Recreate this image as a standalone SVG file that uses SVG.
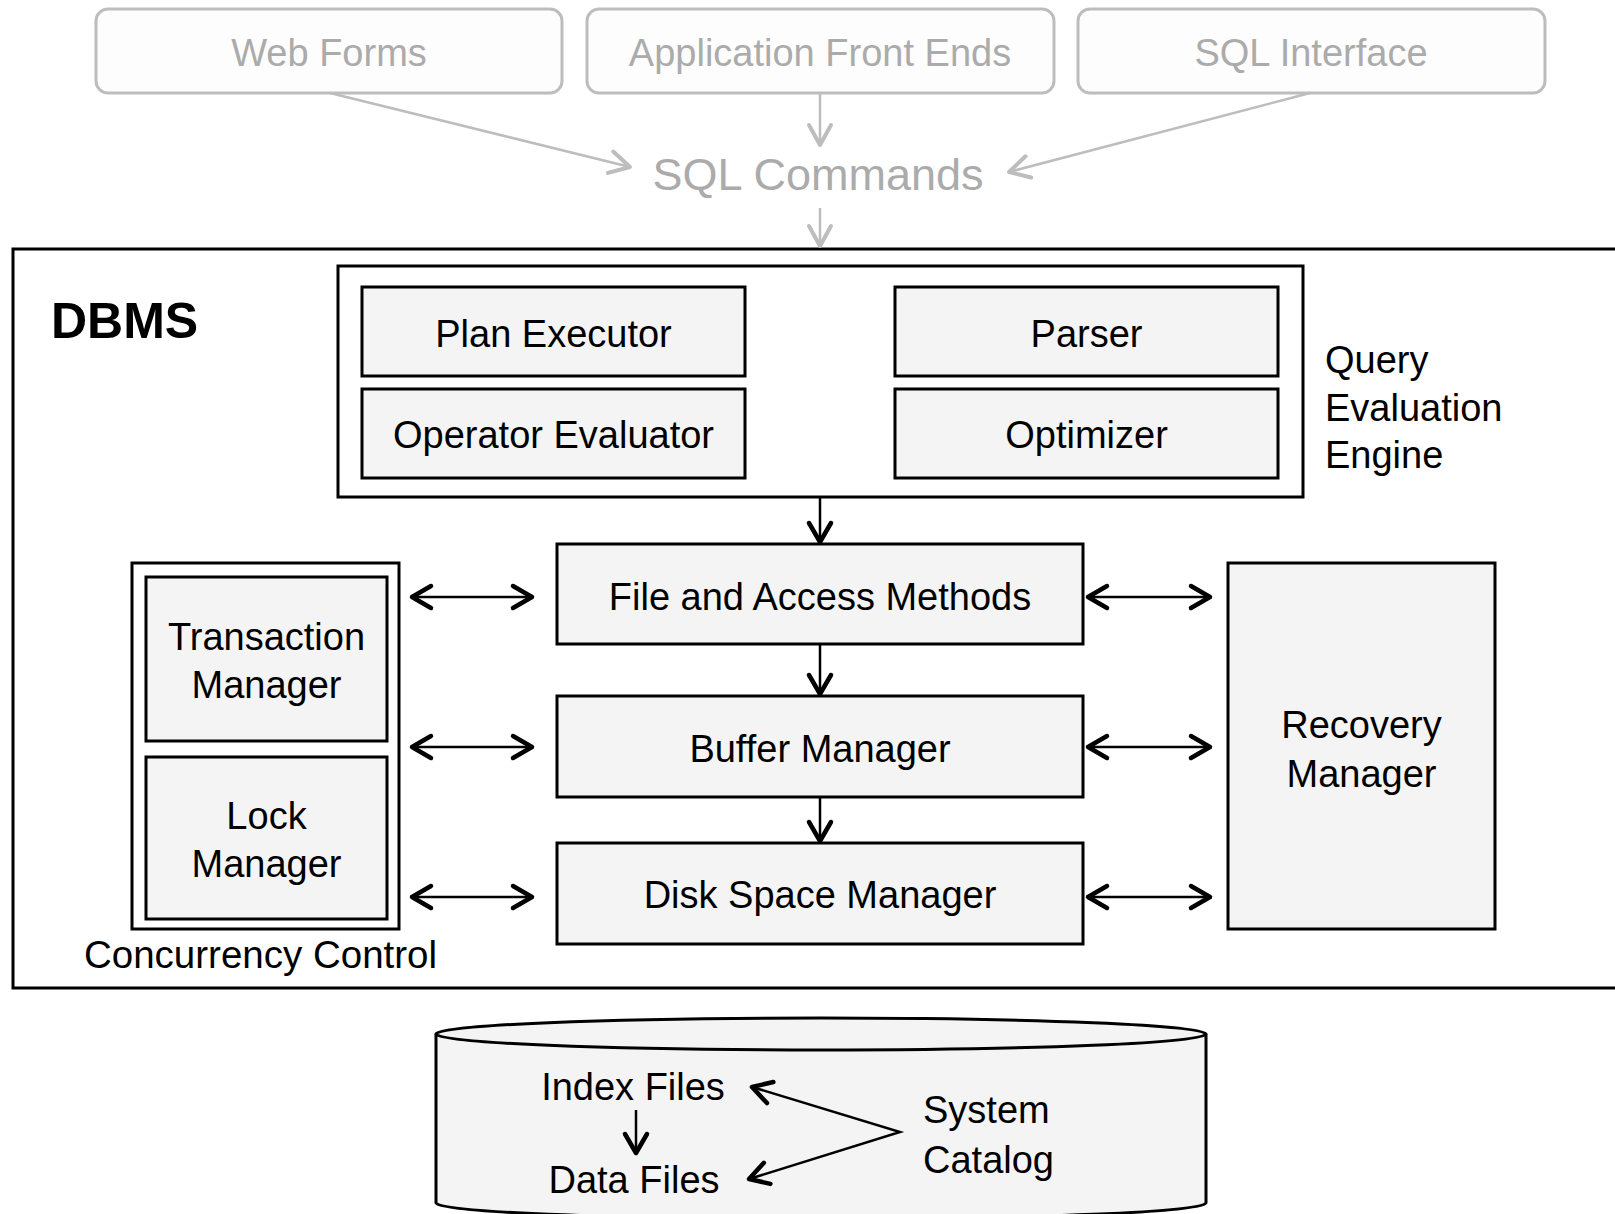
<svg xmlns="http://www.w3.org/2000/svg" width="1615" height="1214" viewBox="0 0 1615 1214">
<style>
.t{font-family:"Liberation Sans",Arial,sans-serif;fill:#000;text-anchor:middle}
.g{font-family:"Liberation Sans",Arial,sans-serif;fill:#ababab;text-anchor:middle}
.top{fill:#fdfdfd;stroke:#bdbdbd;stroke-width:3}
.box{fill:#f4f4f4;stroke:#000;stroke-width:3}
.frame{fill:none;stroke:#000;stroke-width:3}
.ln{fill:none;stroke:#000;stroke-width:2.5}
.gl{fill:none;stroke:#bdbdbd;stroke-width:2.5}
</style>
<defs>
<marker id="ah" markerUnits="userSpaceOnUse" markerWidth="40" markerHeight="40" refX="0" refY="0" orient="auto-start-reverse" overflow="visible">
<path d="M-19,-11 L0,0 L-19,11" fill="none" stroke="#000" stroke-width="4.5" stroke-linecap="round" stroke-linejoin="round"/>
</marker>
<marker id="gh" markerUnits="userSpaceOnUse" markerWidth="40" markerHeight="40" refX="0" refY="0" orient="auto" overflow="visible">
<path d="M-20,-11 L0,0 L-20,11" fill="none" stroke="#bdbdbd" stroke-width="4" stroke-linecap="round" stroke-linejoin="round"/>
</marker>
</defs>

<g id="webforms"><rect class="top" x="96" y="9" width="466" height="84" rx="12"/><text class="g" x="329" y="66" font-size="38">Web Forms</text></g>
<g id="appfrontends"><rect class="top" x="587" y="9" width="467" height="84" rx="12"/><text class="g" x="820" y="66" font-size="38">Application Front Ends</text></g>
<g id="sqlinterface"><rect class="top" x="1078" y="9" width="467" height="84" rx="12"/><text class="g" x="1311" y="66" font-size="38">SQL Interface</text></g>
<g id="sqlcommands"><text class="g" x="818" y="190" font-size="45">SQL Commands</text></g>

<g id="dbms"><rect class="frame" x="13" y="249" width="1640" height="739"/><text class="t" x="51" y="338" font-size="50" font-weight="bold" style="text-anchor:start">DBMS</text></g>

<g id="qee"><rect class="frame" x="338" y="266" width="965" height="231"/>
<text class="t" x="1325" y="373" font-size="38" style="text-anchor:start">Query</text>
<text class="t" x="1325" y="421" font-size="38" style="text-anchor:start">Evaluation</text>
<text class="t" x="1325" y="468" font-size="38" style="text-anchor:start">Engine</text></g>
<g id="planexecutor"><rect class="box" x="362" y="287" width="383" height="89"/><text class="t" x="553.5" y="347" font-size="38">Plan Executor</text></g>
<g id="operatorevaluator"><rect class="box" x="362" y="389" width="383" height="89"/><text class="t" x="553.5" y="448" font-size="38">Operator Evaluator</text></g>
<g id="parser"><rect class="box" x="895" y="287" width="383" height="89"/><text class="t" x="1086.5" y="347" font-size="38">Parser</text></g>
<g id="optimizer"><rect class="box" x="895" y="389" width="383" height="89"/><text class="t" x="1086.5" y="448" font-size="38">Optimizer</text></g>

<g id="fileaccess"><rect class="box" x="557" y="544" width="526" height="100"/><text class="t" x="820" y="610" font-size="38">File and Access Methods</text></g>
<g id="buffermanager"><rect class="box" x="557" y="696" width="526" height="101"/><text class="t" x="820" y="762" font-size="38">Buffer Manager</text></g>
<g id="diskspacemanager"><rect class="box" x="557" y="843" width="526" height="101"/><text class="t" x="820" y="908" font-size="38">Disk Space Manager</text></g>

<g id="concurrencycontrol"><rect class="frame" x="132" y="563" width="267" height="366"/><text class="t" x="260.5" y="968" font-size="38.5">Concurrency Control</text></g>
<g id="transactionmanager"><rect class="box" x="146" y="577" width="241" height="164"/><text class="t" x="266.5" y="650" font-size="38">Transaction</text><text class="t" x="266.5" y="698" font-size="38">Manager</text></g>
<g id="lockmanager"><rect class="box" x="146" y="757" width="241" height="162"/><text class="t" x="266.5" y="829" font-size="38">Lock</text><text class="t" x="266.5" y="877" font-size="38">Manager</text></g>

<g id="recoverymanager"><rect class="box" x="1228" y="563" width="267" height="366"/><text class="t" x="1361.5" y="738" font-size="38">Recovery</text><text class="t" x="1361.5" y="787" font-size="38">Manager</text></g>

<g id="storage">
<path d="M436,1034 L436,1203 A385,16 0 0 0 1206,1203 L1206,1034" fill="#f4f4f4" stroke="#000" stroke-width="3"/>
<ellipse cx="821" cy="1034" rx="385" ry="16" fill="#f4f4f4" stroke="#000" stroke-width="3"/>
<text class="t" x="633" y="1100" font-size="38">Index Files</text>
<text class="t" x="634" y="1193" font-size="38">Data Files</text>
<text class="t" x="923" y="1123" font-size="38" style="text-anchor:start">System</text>
<text class="t" x="923" y="1173" font-size="38" style="text-anchor:start">Catalog</text>
</g>

<g id="connectors">
<line class="gl" x1="330" y1="93" x2="630" y2="167" marker-end="url(#gh)"/>
<line class="gl" x1="820" y1="93" x2="820" y2="145" marker-end="url(#gh)"/>
<line class="gl" x1="1310" y1="93" x2="1009" y2="172" marker-end="url(#gh)"/>
<line class="gl" x1="820" y1="208" x2="820" y2="246" marker-end="url(#gh)"/>

<line class="ln" x1="820" y1="497" x2="820" y2="542" marker-end="url(#ah)"/>
<line class="ln" x1="820" y1="644" x2="820" y2="694" marker-end="url(#ah)"/>
<line class="ln" x1="820" y1="797" x2="820" y2="841" marker-end="url(#ah)"/>

<line class="ln" x1="412" y1="597" x2="532" y2="597" marker-start="url(#ah)" marker-end="url(#ah)"/>
<line class="ln" x1="412" y1="747" x2="532" y2="747" marker-start="url(#ah)" marker-end="url(#ah)"/>
<line class="ln" x1="412" y1="897" x2="532" y2="897" marker-start="url(#ah)" marker-end="url(#ah)"/>
<line class="ln" x1="1088" y1="597" x2="1210" y2="597" marker-start="url(#ah)" marker-end="url(#ah)"/>
<line class="ln" x1="1088" y1="747" x2="1210" y2="747" marker-start="url(#ah)" marker-end="url(#ah)"/>
<line class="ln" x1="1088" y1="897" x2="1210" y2="897" marker-start="url(#ah)" marker-end="url(#ah)"/>

<line class="ln" x1="636" y1="1110" x2="636" y2="1153" marker-end="url(#ah)"/>
<polyline class="ln" points="752,1087 900,1132 749,1179" marker-start="url(#ah)" marker-end="url(#ah)"/>
</g>
</svg>
